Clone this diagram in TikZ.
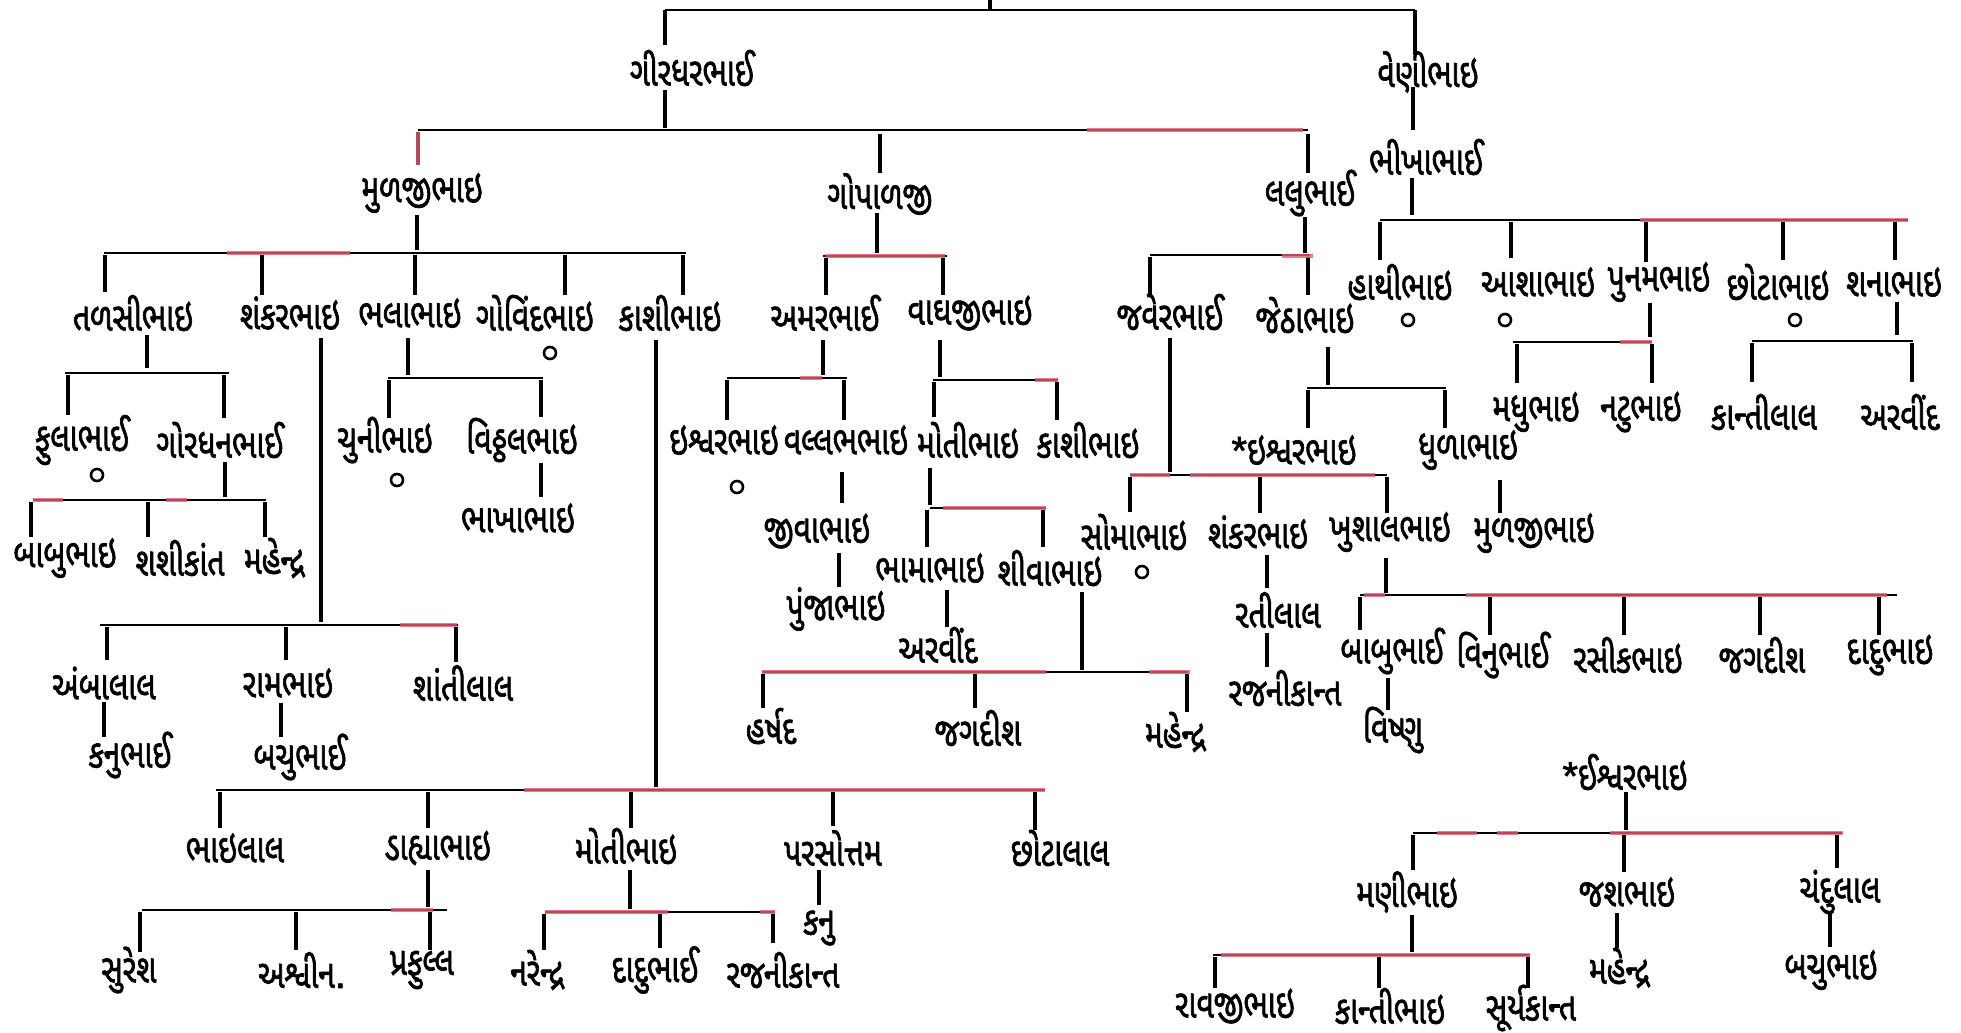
\documentclass[tikz,border=0pt]{standalone}
\usepackage{fontspec}
\newfontfamily\guj[Script=Gujarati,FakeStretch=0.75,FakeBold=1.6]{Noto Sans Gujarati UI}
\newfontfamily\lat[FakeBold=1.6]{Liberation Sans}
\definecolor{redmark}{RGB}{226,92,112}
\newcommand\vlin[3]{\draw[vline] (#1,#2) -- (#1,#3);}
\newcommand\hlin[3]{\draw[hline] (#2,#1) -- (#3,#1);}
\newcommand\rlin[3]{\draw[rline] (#2,#1) -- (#3,#1);}
\begin{document}
\begin{tikzpicture}[x=0.5pt,y=-0.5pt,
  nm/.style={font=\guj\fontsize{20}{22}\selectfont, inner sep=0pt, anchor=center},
  vline/.style={line width=1.7pt},
  hline/.style={line width=1pt},
  rline/.style={line width=1.6pt, redmark, opacity=0.8},
  zero/.style={circle, draw, line width=1.3pt, minimum size=6pt, inner sep=0pt}]
\fill[white] (0,0) rectangle (1961,1033);
\useasboundingbox (0,0) rectangle (1961,1033);

% ---------- names ----------
\node[nm] (giridhar) at (692,68) {ગીરધરભાઈ};
\node[nm] (veni) at (1428,72) {વેણીભાઇ};
\node[nm] (mulji) at (422,193) {મુળજીભાઇ};
\node[nm] (gopalji) at (880,194) {ગોપાળજી};
\node[nm] (lalu) at (1310,193) {લલુભાઈ};
\node[nm] (bhikha) at (1426,157) {ભીખાભાઈ};

\node[nm] (talsi) at (133,313) {તળસીભાઇ};
\node[nm] (shankarA) at (290,313) {શંકરભાઇ};
\node[nm] (bhala) at (410,313) {ભલાભાઇ};
\node[nm] (govind) at (535,313) {ગોવિંદભાઇ};
\node[nm] (kashiA) at (670,313) {કાશીભાઇ};
\node[nm] (amar) at (825,313) {અમરભાઈ};
\node[nm] (vaghji) at (970,313) {વાઘજીભાઇ};
\node[nm] (javer) at (1170,312) {જવેરભાઈ};
\node[nm] (jetha) at (1305,315) {જેઠાભાઇ};
\node[nm] (hathi) at (1400,282) {હાથીભાઇ};
\node[nm] (asha) at (1538,282) {આશાભાઇ};
\node[nm] (punam) at (1659,282) {પુનમભાઇ};
\node[nm] (chhota) at (1778,282) {છોટાભાઇ};
\node[nm] (shana) at (1894,282) {શનાભાઇ};

\node[nm] (phula) at (82,440) {ફુલાભાઈ};
\node[nm] (gordhan) at (220,440) {ગોરધનભાઈ};
\node[nm] (chuni) at (385,440) {ચુનીભાઇ};
\node[nm] (vitthal) at (522,440) {વિઠ્ઠલભાઇ};
\node[nm] (ishvarA) at (724,440) {ઇશ્વરભાઇ};
\node[nm] (vallabh) at (846,440) {વલ્લભભાઇ};
\node[nm] (motiA) at (968,440) {મોતીભાઇ};
\node[nm] (kashiB) at (1088,440) {કાશીભાઇ};
\node[nm] (ishvarB) at (1294,450) {{\lat *}ઇશ્વરભાઇ};
\node[nm] (dhula) at (1468,450) {ધુળાભાઇ};
\node[nm] (madhu) at (1536,412) {મધુભાઇ};
\node[nm] (natu) at (1641,412) {નટુભાઇ};
\node[nm] (kantiA) at (1764,412) {કાન્તીલાલ};
\node[nm] (arvindA) at (1900,412) {અરવીંદ};

\node[nm] (babuA) at (65,558) {બાબુભાઇ};
\node[nm] (shashi) at (180,558) {શશીકાંત};
\node[nm] (mahendraA) at (274,558) {મહેન્દ્ર};
\node[nm] (bhakha) at (518,518) {ભાખાભાઇ};
\node[nm] (jiva) at (817,531) {જીવાભાઇ};
\node[nm] (punja) at (836,609) {પુંજાભાઇ};
\node[nm] (bhama) at (930,568) {ભામાભાઇ};
\node[nm] (shiva) at (1050,568) {શીવાભાઇ};
\node[nm] (arvindB) at (938,645) {અરવીંદ};
\node[nm] (soma) at (1134,532) {સોમાભાઇ};
\node[nm] (shankarB) at (1258,532) {શંકરભાઇ};
\node[nm] (khushal) at (1390,532) {ખુશાલભાઇ};
\node[nm] (muljiB) at (1534,533) {મુળજીભાઇ};
\node[nm] (ratilal) at (1278,610) {રતીલાલ};
\node[nm] (rajniA) at (1285,688) {રજનીકાન્ત};
\node[nm] (babuB) at (1392,651) {બાબુભાઈ};
\node[nm] (vinu) at (1503,655) {વિનુભાઈ};
\node[nm] (rasik) at (1628,655) {રસીકભાઇ};
\node[nm] (jagdishA) at (1762,655) {જગદીશ};
\node[nm] (daduA) at (1890,655) {દાદુભાઇ};
\node[nm] (vishnu) at (1393,730) {વિષ્ણુ};

\node[nm] (ambalal) at (104,683) {અંબાલાલ};
\node[nm] (ram) at (288,683) {રામભાઇ};
\node[nm] (shanti) at (463,683) {શાંતીલાલ};
\node[nm] (kanuA) at (130,755) {કનુભાઈ};
\node[nm] (bachuA) at (300,757) {બચુભાઈ};
\node[nm] (harshad) at (771,726) {હર્ષદ};
\node[nm] (jagdishB) at (978,728) {જગદીશ};
\node[nm] (mahendraB) at (1175,732) {મહેન્દ્ર};

\node[nm] (bhailal) at (235,848) {ભાઇલાલ};
\node[nm] (dahya) at (438,848) {ડાહ્યાભાઇ};
\node[nm] (motiB) at (626,846) {મોતીભાઇ};
\node[nm] (parsottam) at (833,848) {પરસોત્તમ};
\node[nm] (chhotalal) at (1060,848) {છોટાલાલ};
\node[nm] (suresh) at (129,970) {સુરેશ};
\node[nm] (ashvin) at (302,970) {અશ્વીન{\lat .}};
\node[nm] (praful) at (422,970) {પ્રફુલ્લ};
\node[nm] (narendra) at (537,970) {નરેન્દ્ર};
\node[nm] (daduB) at (655,970) {દાદુભાઈ};
\node[nm] (rajniB) at (783,970) {રજનીકાન્ત};
\node[nm] (kanuB) at (819,928) {કનુ};

\node[nm] (ishvarC) at (1625,772) {{\lat *}ઈશ્વરભાઇ};
\node[nm] (mani) at (1407,892) {મણીભાઇ};
\node[nm] (jash) at (1627,892) {જશભાઇ};
\node[nm] (chandu) at (1840,892) {ચંદુલાલ};
\node[nm] (ravji) at (1235,1006) {રાવજીભાઇ};
\node[nm] (kantiB) at (1390,1006) {કાન્તીભાઇ};
\node[nm] (surya) at (1531,1008) {સૂર્યકાન્ત};
\node[nm] (mahendraC) at (1619,968) {મહેન્દ્ર};
\node[nm] (bachuB) at (1831,970) {બચુભાઇ};

% ---------- childless marks ----------
\node[zero] (z1) at (1408,320) {};
\node[zero] (z2) at (1505,320) {};
\node[zero] (z3) at (1795,320) {};
\node[zero] (z4) at (97,475) {};
\node[zero] (z5) at (397,480) {};
\node[zero] (z6) at (550,353) {};
\node[zero] (z7) at (737,487) {};
\node[zero] (z8) at (1142,572) {};

% ---------- connectors ----------
% top
\hlin{10}{665}{1415} \vlin{990}{0}{10}
\vlin{665}{10}{45} \vlin{1415}{10}{55}
% Giridhar
\vlin{665}{90}{128} \hlin{130}{418}{1308}
\vlin{418}{132}{165} \vlin{880}{134}{173} \vlin{1308}{134}{173}
% Veni / Bhikha
\vlin{1413}{87}{130} \vlin{1412}{178}{215} \hlin{220}{1380}{1908}
\vlin{1380}{222}{260} \vlin{1511}{222}{258} \vlin{1646}{222}{262} \vlin{1783}{222}{260} \vlin{1895}{222}{260}
\vlin{1650}{303}{337} \hlin{342}{1513}{1652} \vlin{1517}{344}{383} \vlin{1652}{344}{383}
\vlin{1897}{302}{335} \hlin{341}{1752}{1913} \vlin{1752}{343}{382} \vlin{1912}{343}{382}
% Mulji
\vlin{417}{215}{250} \hlin{253}{104}{686}
\vlin{105}{255}{292} \vlin{262}{255}{295} \vlin{415}{255}{295} \vlin{565}{255}{295} \vlin{683}{255}{295}
% Talsi
\vlin{147}{335}{368} \hlin{373}{65}{229}
\vlin{68}{375}{415} \vlin{224}{375}{418}
\vlin{225}{462}{497} \hlin{500}{33}{266}
\vlin{31}{502}{537} \vlin{148}{502}{537} \vlin{265}{502}{537}
% Shankar (Mulji's)
\vlin{321}{338}{622} \hlin{625}{100}{458}
\vlin{107}{627}{660} \vlin{286}{627}{660} \vlin{456}{627}{662}
\vlin{104}{702}{737} \vlin{281}{703}{737}
% Bhala
\vlin{408}{338}{375} \hlin{378}{388}{543}
\vlin{389}{380}{418} \vlin{541}{380}{417} \vlin{541}{463}{497}
% Kashi (Mulji's)
\vlin{656}{340}{787} \hlin{790}{216}{1045}
\vlin{220}{792}{828} \vlin{428}{792}{828} \vlin{631}{792}{828} \vlin{833}{792}{826} \vlin{1035}{792}{830}
\vlin{428}{870}{907} \hlin{910}{142}{447}
\vlin{140}{912}{952} \vlin{296}{912}{950} \vlin{430}{912}{950}
\vlin{630}{870}{909} \hlin{912}{545}{775}
\vlin{544}{914}{950} \vlin{660}{914}{948} \vlin{773}{914}{943}
\vlin{819}{870}{905}
% Gopalji
\vlin{877}{213}{253} \hlin{256}{823}{947}
\vlin{826}{258}{295} \vlin{943}{258}{295}
\vlin{823}{340}{375} \hlin{378}{727}{847}
\vlin{727}{380}{420} \vlin{844}{380}{420}
\vlin{842}{472}{503} \vlin{839}{553}{587}
\vlin{940}{340}{377} \hlin{380}{933}{1058}
\vlin{934}{382}{417} \vlin{1057}{382}{420}
\vlin{930}{468}{505} \hlin{508}{930}{1046}
\vlin{927}{510}{547} \vlin{1043}{510}{547}
\vlin{947}{590}{627}
\vlin{1082}{592}{670} \hlin{672}{762}{1188}
\vlin{763}{674}{708} \vlin{975}{674}{708} \vlin{1187}{674}{712}
% Lalu
\vlin{1305}{217}{253} \hlin{255}{1150}{1310}
\vlin{1150}{257}{295} \vlin{1308}{257}{295}
\vlin{1170}{338}{472} \hlin{475}{1130}{1387}
\vlin{1130}{477}{512} \vlin{1260}{477}{513} \vlin{1387}{477}{513}
\vlin{1267}{555}{588} \vlin{1267}{633}{667}
\vlin{1386}{558}{593} \hlin{595}{1360}{1897}
\vlin{1360}{597}{630} \vlin{1490}{597}{635} \vlin{1624}{597}{635} \vlin{1760}{597}{635} \vlin{1879}{597}{635}
\vlin{1388}{678}{710}
\vlin{1328}{347}{385} \hlin{388}{1307}{1446}
\vlin{1308}{390}{428} \vlin{1445}{390}{428}
\vlin{1500}{480}{513}
% lower right Ishvar
\vlin{1626}{792}{830} \hlin{833}{1413}{1842}
\vlin{1413}{835}{870} \vlin{1624}{835}{872} \vlin{1837}{835}{868}
\vlin{1412}{915}{952} \hlin{955}{1213}{1530}
\vlin{1215}{957}{988} \vlin{1379}{957}{988} \vlin{1528}{957}{988}
\vlin{1617}{913}{948} \vlin{1830}{913}{947}

% ---------- red pencil marks ----------
\draw[rline] (418,132) -- (418,165);
\rlin{130}{1087}{1303}
\rlin{253}{227}{350}
\rlin{256}{825}{945}
\rlin{256}{1282}{1313}
\rlin{220}{1640}{1908}
\rlin{342}{1620}{1652}
\rlin{500}{33}{63} \rlin{500}{166}{187}
\rlin{625}{400}{457}
\rlin{378}{800}{822}
\rlin{380}{1035}{1058}
\rlin{508}{943}{1046}
\rlin{475}{1130}{1170} \rlin{475}{1190}{1375}
\rlin{672}{762}{1046} \rlin{672}{1149}{1190}
\rlin{595}{1364}{1385} \rlin{595}{1466}{1887}
\rlin{790}{524}{1045}
\rlin{910}{391}{433}
\rlin{912}{545}{668} \rlin{912}{760}{775}
\rlin{833}{1437}{1477} \rlin{833}{1497}{1518} \rlin{833}{1610}{1843}
\rlin{955}{1221}{1530}
\end{tikzpicture}
\end{document}
